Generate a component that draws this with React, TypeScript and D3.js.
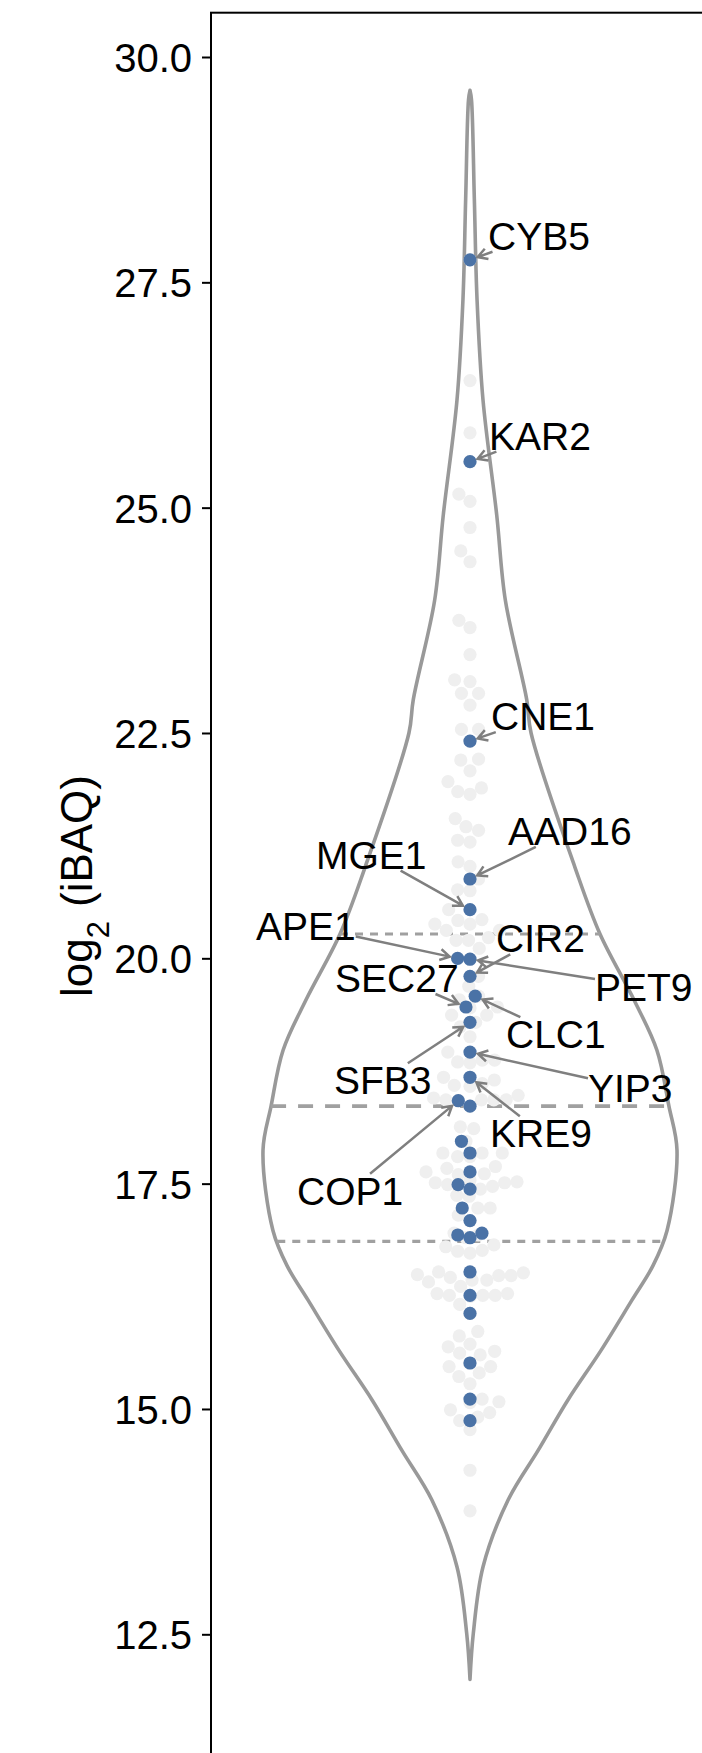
import React, { useEffect, useRef } from 'react';
import * as d3 from 'd3';

// y axis ticks
const tickValues = [12.5, 15, 17.5, 20, 22.5, 25, 27.5, 30];

// violin outline: value and relative density (1 = widest)
const violinValues = [29.63, 29.53, 28.42, 27.31, 26.19, 24.92, 23.97, 22.87, 22.5, 21.01, 20.27, 19.54, 18.98, 18.36, 17.87, 16.98, 16.59, 16.21, 15.65, 15.1, 14.54, 13.99, 13.25, 12.51, 12.0];
const violinDensity = [0, 0.007, 0.021, 0.034, 0.063, 0.129, 0.171, 0.274, 0.295, 0.507, 0.628, 0.792, 0.903, 0.961, 1.0, 0.952, 0.884, 0.783, 0.633, 0.473, 0.329, 0.184, 0.063, 0.016, 0];

// quartiles drawn in the violin
const quartiles = [16.86, 18.36, 20.27];

// all other proteins (grey swarm)
const otherValues = [
  26.41, 25.83, 25.15, 25.07, 24.78, 24.52, 24.4, 23.75, 23.67, 23.37, 23.09, 23.07, 22.94, 22.94, 22.81,
  22.54, 22.54, 22.21, 22.2, 22.08, 21.96, 21.89, 21.85, 21.82, 21.55, 21.46, 21.42, 21.31, 21.29, 21.07,
  21.02, 20.76, 20.75, 20.43, 20.42, 20.38, 20.38, 20.31, 20.31, 20.23, 20.2, 20.2, 20.11, 19.69, 19.54,
  19.45, 19.37, 19.37, 19.24, 19.13, 18.87, 18.85, 18.87, 18.84, 18.65, 18.61, 18.58, 18.59, 18.48, 18.45,
  18.43, 18.43, 18.43, 18.43, 18.13, 18.11, 17.84, 17.84, 17.8, 17.8, 17.69, 17.67, 17.61, 17.6, 17.54,
  17.52, 17.51, 17.51, 17.47, 17.37, 17.36, 17.23, 17.15, 16.82, 16.8, 16.75, 16.76, 16.73, 16.51, 16.49,
  16.48, 16.48, 16.46, 16.43, 16.43, 16.41, 16.36, 16.28, 16.28, 16.26, 16.26, 16.25, 16.16, 15.86, 15.81,
  15.72, 15.69, 15.64, 15.62, 15.6, 15.47, 15.47, 15.4, 15.36, 15.28, 15.08, 15.07, 14.99, 14.96, 14.91,
  14.77, 14.32, 13.87,
];

// highlighted proteins (blue), '' = not labelled
const highlightNames = [
  'CYB5', 'KAR2', 'CNE1', 'AAD16', 'MGE1', 'APE1', 'PET9', 'CIR2', 'CLC1', 'SEC27', 'SFB3', 'YIP3', 'KRE9', 'COP1',
  '', '', '', '', '', '', '', '', '', '', '', '', '', '', '', '', '',
];
const highlightValues = [
  27.75, 25.51, 22.41, 20.88, 20.54, 20.0, 19.99, 19.8, 19.58, 19.46, 19.29, 18.96, 18.68, 18.42,
  18.36, 17.97, 17.84, 17.63, 17.49, 17.44, 17.23, 17.09, 16.93, 16.9, 16.95, 16.52, 16.26, 16.06, 15.51, 15.11, 14.87,
];

// where the repelled labels sit: [text start x from violin centre, baseline from point y]
const labelNudge: Record<string, [number, number]> = {
  CYB5: [18, -10],
  KAR2: [19, -12],
  CNE1: [21, -11],
  AAD16: [38, -34],
  MGE1: [-154, -41],
  APE1: [-214, -18],
  CIR2: [26, -24],
  PET9: [125, 42],
  SEC27: [-135, -15],
  CLC1: [36, 52],
  SFB3: [-136, 72],
  YIP3: [118, 50],
  KRE9: [20, 70],
  COP1: [-173, 104],
};

// beeswarm, lowest values first; collision shape is an ellipse (sx wide, sy tall)
function swarm(values: number[], ypos: (v: number) => number, sx: number, sy: number): number[] {
  const order = d3.range(values.length).sort((a, b) => values[a] - values[b]);
  const placed: { x: number; y: number }[] = [];
  const xs = new Array(values.length).fill(0);
  order.forEach((i) => {
    const yi = ypos(values[i]);
    const near = placed.filter((p) => Math.abs(p.y - yi) < sy);
    const cands = [0];
    near.forEach((p) => {
      const dx = sx * Math.sqrt(1 - ((p.y - yi) / sy) ** 2);
      cands.push(p.x - dx, p.x + dx);
    });
    cands.sort((a, b) => Math.abs(a) - Math.abs(b) || a - b);
    const x =
      cands.find((c) => near.every((p) => ((p.x - c) / sx) ** 2 + ((p.y - yi) / sy) ** 2 >= 0.999)) ?? 0;
    xs[i] = x;
    placed.push({ x, y: yi });
  });
  return xs;
}

const App: React.FC = () => {
  const chartRef = useRef<SVGSVGElement>(null);

  useEffect(() => {
    if (!chartRef.current) return;
    const svg = d3.select(chartRef.current);
    svg.selectAll('*').remove();

    const font = "'Liberation Sans', Arial, Helvetica, sans-serif";
    const panelLeft = 211;
    const panelTop = 12.7;
    const cx = 470;
    const r = 6.6;

    const y = d3.scaleLinear().domain([12.5, 30]).range([1634.3, 57]);
    const halfWidth = d3.scaleLinear().domain([0, 1]).range([0, 207]);
    const densityAt = d3.scaleLinear().domain(violinValues).range(violinDensity);

    // panel border
    svg
      .append('rect')
      .attr('x', panelLeft)
      .attr('y', panelTop)
      .attr('width', 1000)
      .attr('height', 2000)
      .attr('fill', 'none')
      .attr('stroke', '#000')
      .attr('stroke-width', 2);

    // y axis
    const axis = svg
      .append('g')
      .attr('transform', `translate(${panelLeft},0)`)
      .call(
        d3
          .axisLeft(y)
          .tickValues(tickValues)
          .tickFormat(d3.format('.1f'))
          .tickSize(9)
          .tickSizeOuter(0)
          .tickPadding(10)
      );
    axis.select('.domain').remove();
    axis.selectAll('line').attr('stroke', '#000').attr('stroke-width', 2);
    axis
      .selectAll('text')
      .attr('font-family', font)
      .attr('font-size', 40)
      .attr('fill', '#000')
      .attr('dy', '0.36em');

    // axis title
    const title = svg
      .append('text')
      .attr('transform', `translate(92,886) rotate(-90)`)
      .attr('text-anchor', 'middle')
      .attr('font-family', font)
      .attr('font-size', 44)
      .attr('fill', '#000');
    title.append('tspan').text('log');
    title.append('tspan').attr('font-size', 31).attr('dy', 17).text('2');
    title.append('tspan').attr('dy', -17).attr('dx', 14).text('(iBAQ)');

    // violin
    const outline = violinValues.map((v, i) => ({ v, d: violinDensity[i] }));
    const area = d3
      .area<{ v: number; d: number }>()
      .y((d) => y(d.v))
      .x0((d) => cx - halfWidth(d.d))
      .x1((d) => cx + halfWidth(d.d))
      .curve(d3.curveCatmullRom);
    svg
      .append('path')
      .attr('d', area(outline))
      .attr('fill', 'none')
      .attr('stroke', '#999999')
      .attr('stroke-width', 3.6)
      .attr('stroke-linejoin', 'round');

    // quartile lines
    quartiles.forEach((q, i) => {
      const w = halfWidth(densityAt(q));
      svg
        .append('line')
        .attr('x1', cx - w)
        .attr('x2', cx + w)
        .attr('y1', y(q))
        .attr('y2', y(q))
        .attr('stroke', '#a0a0a0')
        .attr('stroke-width', i === 1 ? 3.6 : 3.2)
        .attr('stroke-dasharray', i === 1 ? '15 12' : '8 7');
    });

    // grey swarm of every protein
    const allValues = otherValues.concat(highlightValues);
    const greyX = swarm(allValues, y, 12.4, 16.2);
    svg
      .append('g')
      .selectAll('circle')
      .data(allValues)
      .enter()
      .append('circle')
      .attr('cx', (d, i) => cx + greyX[i])
      .attr('cy', (d) => y(d))
      .attr('r', r)
      .attr('fill', '#efefef');

    // blue swarm of highlighted proteins
    const blueX = swarm(highlightValues, y, 12.4, 16.2);
    svg
      .append('g')
      .selectAll('circle')
      .data(highlightValues)
      .enter()
      .append('circle')
      .attr('cx', (d, i) => cx + blueX[i])
      .attr('cy', (d) => y(d))
      .attr('r', r)
      .attr('fill', '#4a72a6');

    // labels with arrows
    const labels = svg.append('g');
    highlightNames.forEach((name, i) => {
      if (!name) return;
      const px = cx + blueX[i];
      const py = y(highlightValues[i]);
      const [dx, dy] = labelNudge[name];
      const t = labels
        .append('text')
        .attr('x', cx + dx)
        .attr('y', py + dy)
        .attr('font-family', font)
        .attr('font-size', 39)
        .attr('fill', '#000')
        .text(name);
      const bb = (t.node() as SVGTextElement).getBBox();
      const top = bb.y + 4;
      const bottom = bb.y + bb.height - 6;
      const tx = bb.x + bb.width / 2;
      const ty = (top + bottom) / 2;
      // where the line from the label centre to the point leaves the box
      const vx = px - tx;
      const vy = py - ty;
      let s = 1;
      if (vx !== 0) s = Math.min(s, Math.abs(bb.width / 2 / vx));
      if (vy !== 0) s = Math.min(s, Math.abs((bottom - top) / 2 / vy));
      const sx = tx + vx * s;
      const sy = ty + vy * s;
      const len = Math.hypot(px - sx, py - sy);
      const ux = (sx - px) / len;
      const uy = (sy - py) / len;
      const ex = px + ux * (r + 1.5);
      const ey = py + uy * (r + 1.5);
      const L = 11;
      const a = Math.PI / 6;
      const a1x = ex + L * (ux * Math.cos(a) - uy * Math.sin(a));
      const a1y = ey + L * (ux * Math.sin(a) + uy * Math.cos(a));
      const a2x = ex + L * (ux * Math.cos(-a) - uy * Math.sin(-a));
      const a2y = ey + L * (ux * Math.sin(-a) + uy * Math.cos(-a));
      labels
        .append('path')
        .attr('d', `M${sx},${sy}L${ex},${ey}M${a1x},${a1y}L${ex},${ey}L${a2x},${a2y}`)
        .attr('fill', 'none')
        .attr('stroke', '#7f7f7f')
        .attr('stroke-width', 2.5);
    });

    return () => {
      svg.selectAll('*').remove();
    };
  }, []);

  return (
    <svg
      ref={chartRef}
      width={702}
      height={1753}
      style={{ position: 'absolute', left: 0, top: 0, background: '#fff' }}
    ></svg>
  );
};

export default App;
